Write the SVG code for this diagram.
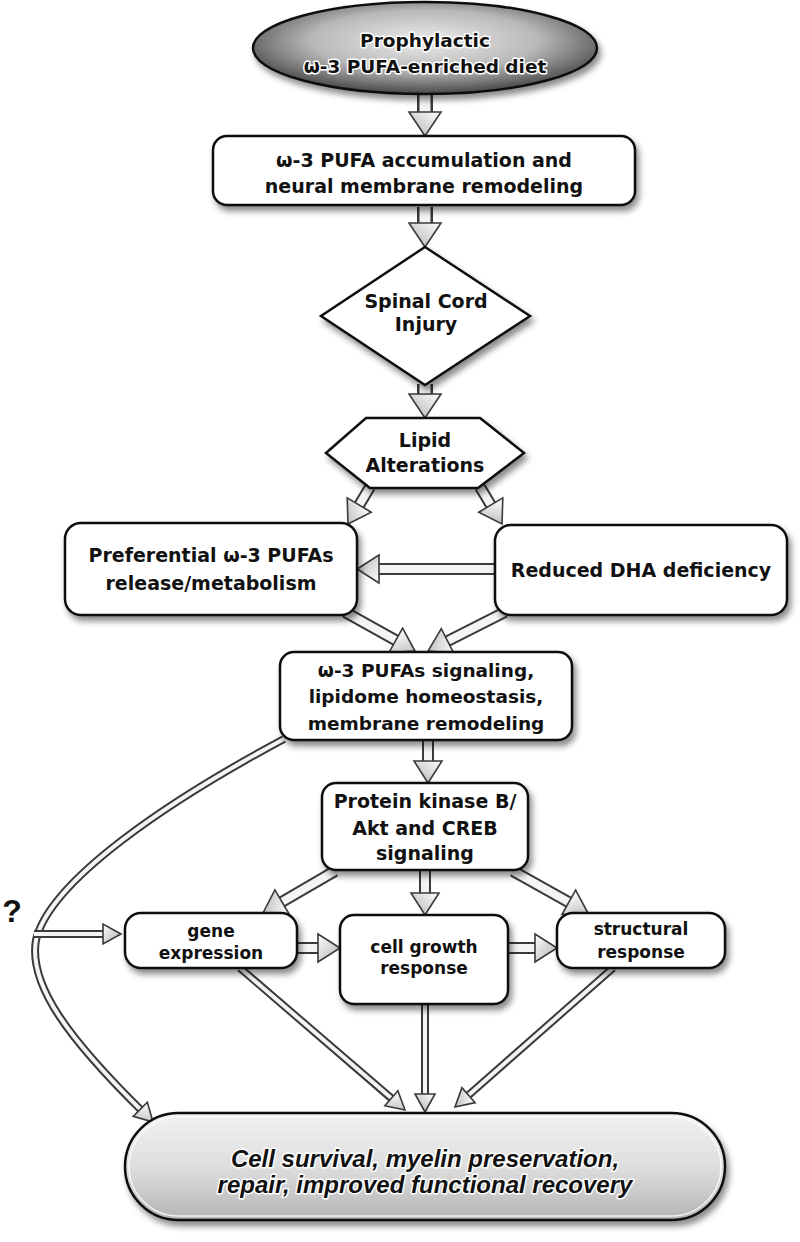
<svg xmlns="http://www.w3.org/2000/svg" xmlns:xlink="http://www.w3.org/1999/xlink" width="800" height="1242" viewBox="0 0 800 1242">
<defs>
<filter id="sh" x="-10%" y="-10%" width="125%" height="140%">
<feDropShadow dx="3" dy="5" stdDeviation="3" flood-color="#000" flood-opacity="0.45"/>
</filter>
<radialGradient id="topg" cx="50%" cy="42%" r="60%">
<stop offset="0" stop-color="#ececec"/>
<stop offset="0.55" stop-color="#b8b8b8"/>
<stop offset="1" stop-color="#3e3e3e"/>
</radialGradient>
<linearGradient id="fing" x1="0" y1="0" x2="0" y2="1">
<stop offset="0" stop-color="#f2f2f2"/>
<stop offset="0.5" stop-color="#dedede"/>
<stop offset="1" stop-color="#b4b4b4"/>
</linearGradient>
<linearGradient id="hg" x1="0" y1="0" x2="1" y2="1">
<stop offset="0" stop-color="#ffffff"/>
<stop offset="1" stop-color="#b0b0b0"/>
</linearGradient>
<path id="hB" d="M0,0 L-24,-16 L-24,16 Z"/>
<path id="hM" d="M0,0 L-22,-14 L-22,14 Z"/>
<path id="hS" d="M0,0 L-18,-10 L-18,10 Z"/>
</defs>
<style>
.box{fill:#fff;stroke:#111;stroke-width:2.5;filter:url(#sh)}
.t{font-family:"DejaVu Sans","Liberation Sans",sans-serif;font-weight:bold;font-size:19px;text-anchor:middle;fill:#111}
.tm{font-size:18.5px}
.ts{font-size:17px}
.halo{paint-order:stroke;stroke:#fff;stroke-width:3px;stroke-linejoin:round}
.fin{font-family:"Liberation Sans",Arial,sans-serif;font-style:italic;font-weight:bold;font-size:24px;text-anchor:middle;fill:#111}
.so{fill:none;stroke:#3a3a3a;stroke-linecap:butt}
.si{fill:none;stroke:#f4f4f4;stroke-linecap:butt}
.wB{stroke-width:16}.iB{stroke-width:11}
.wM{stroke-width:12}.iM{stroke-width:8}
.wS{stroke-width:8}.iS{stroke-width:4}
.hd{fill:url(#hg);stroke:#3a3a3a;stroke-width:1.6;stroke-linejoin:miter}
.q{font-family:"Liberation Sans",Arial,sans-serif;font-weight:bold;font-size:32px;text-anchor:middle;fill:#111}
</style>
<rect width="800" height="1242" fill="#fff"/>

<g id="connectors">
<!-- A1 -->
<path class="so wB" d="M425,93 V114"/><path class="si iB" d="M425,93 V114"/>
<use href="#hB" class="hd" transform="translate(425,136) rotate(90)"/>
<!-- A2 -->
<path class="so wB" d="M425,207 V225"/><path class="si iB" d="M425,207 V225"/>
<use href="#hB" class="hd" transform="translate(425,247) rotate(90)"/>
<!-- A3 -->
<path class="so wB" d="M425,384 V396"/><path class="si iB" d="M425,384 V396"/>
<use href="#hB" class="hd" transform="translate(425,418) rotate(90)"/>
<!-- A4 -->
<path class="so wM" d="M370,487 L358,507"/><path class="si iM" d="M370,487 L358,507"/>
<use href="#hM" class="hd" transform="translate(348,524) rotate(120.7)"/>
<!-- A5 -->
<path class="so wM" d="M480,487 L492,507"/><path class="si iM" d="M480,487 L492,507"/>
<use href="#hM" class="hd" transform="translate(502,524) rotate(59.3)"/>
<!-- A6 -->
<path class="so wM" d="M496,569 H377"/><path class="si iM" d="M496,569 H377"/>
<use href="#hM" class="hd" transform="translate(357,569) rotate(180)"/>
<!-- A7 -->
<path class="so wM" d="M345,612 L397.5,641.3"/><path class="si iM" d="M345,612 L397.5,641.3"/>
<use href="#hM" class="hd" transform="translate(415,651) rotate(29.1)"/>
<!-- A8 -->
<path class="so wM" d="M505,612 L445.8,642"/><path class="si iM" d="M505,612 L445.8,642"/>
<use href="#hM" class="hd" transform="translate(428,651) rotate(153.1)"/>
<!-- A9 -->
<path class="so wM" d="M428,741 V763"/><path class="si iM" d="M428,741 V763"/>
<use href="#hM" class="hd" transform="translate(428,783) rotate(90)"/>
<!-- A10 -->
<path class="so wM" d="M335,871 L280.3,902.9"/><path class="si iM" d="M335,871 L280.3,902.9"/>
<use href="#hM" class="hd" transform="translate(263,913) rotate(149.7)"/>
<!-- A11 -->
<path class="so wM" d="M425,871 V895"/><path class="si iM" d="M425,871 V895"/>
<use href="#hM" class="hd" transform="translate(425,915) rotate(90)"/>
<!-- A12 -->
<path class="so wM" d="M513,871 L570.6,903.2"/><path class="si iM" d="M513,871 L570.6,903.2"/>
<use href="#hM" class="hd" transform="translate(588,913) rotate(29.2)"/>
<!-- A13 -->
<path class="so wM" d="M297,948 H320"/><path class="si iM" d="M297,948 H320"/>
<use href="#hM" class="hd" transform="translate(340,948)"/>
<!-- A14 -->
<path class="so wM" d="M508,948 H537"/><path class="si iM" d="M508,948 H537"/>
<use href="#hM" class="hd" transform="translate(557,948)"/>
<!-- A15 -->
<path class="so wS" d="M240,968 L392.9,1099.6"/><path class="si iS" d="M240,968 L392.9,1099.6"/>
<use href="#hS" class="hd" transform="translate(405,1110) rotate(40.7)"/>
<!-- A17 -->
<path class="so wS" d="M613,968 L467,1096.4"/><path class="si iS" d="M613,968 L467,1096.4"/>
<use href="#hS" class="hd" transform="translate(455,1107) rotate(138.7)"/>
<!-- A16 -->
<path class="so wS" d="M425,1004 V1096"/><path class="si iS" d="M425,1004 V1096"/>
<use href="#hS" class="hd" transform="translate(425,1112) rotate(90)"/>
<!-- A18 curve -->
<path class="so wS" d="M284,739 C170,800 50,880 36,940 C28,985 70,1040 142,1111"/>
<path class="si iS" d="M284,739 C170,800 50,880 36,940 C28,985 70,1040 142,1111"/>
<use href="#hS" class="hd" transform="translate(153,1122) rotate(45)"/>
<!-- A19 -->
<path class="so wS" d="M34,934 H105"/><path class="si iS" d="M34,934 H105"/>
<use href="#hS" class="hd" transform="translate(121,934)"/>
</g>

<g id="n-diet">
<ellipse cx="425" cy="48" rx="172" ry="46" fill="url(#topg)" stroke="#111" stroke-width="2.5" filter="url(#sh)"/>
<text class="t tm halo" x="425" y="47">Prophylactic</text>
<text class="t tm halo" x="425" y="73">ω-3 PUFA-enriched diet</text>
</g>

<g id="n-accum">
<rect class="box" x="213" y="136" width="422" height="69" rx="14"/>
<text class="t" x="424" y="167">ω-3 PUFA accumulation and</text>
<text class="t" x="424" y="193">neural membrane remodeling</text>
</g>

<g id="n-sci">
<polygon class="box" points="425,247 530,316 425,385 321,316"/>
<text class="t" x="426" y="308">Spinal Cord</text>
<text class="t" x="426" y="331">Injury</text>
</g>

<g id="n-lipid">
<polygon class="box" points="366,418 480,418 524,453 478,488 370,488 326,453"/>
<text class="t" x="425" y="447">Lipid</text>
<text class="t" x="425" y="472">Alterations</text>
</g>

<g id="n-pref">
<rect class="box" x="65" y="523" width="292" height="92" rx="16"/>
<text class="t" x="211" y="562">Preferential ω-3 PUFAs</text>
<text class="t" x="211" y="590">release/metabolism</text>
</g>

<g id="n-dha">
<rect class="box" x="495" y="525" width="292" height="90" rx="16"/>
<text class="t" x="641" y="577">Reduced DHA deficiency</text>
</g>

<g id="n-signal">
<rect class="box" x="280" y="652" width="292" height="88" rx="14"/>
<text class="t tm" x="426" y="677">ω-3 PUFAs signaling,</text>
<text class="t tm" x="426" y="703">lipidome homeostasis,</text>
<text class="t tm" x="426" y="730">membrane remodeling</text>
</g>

<g id="n-akt">
<rect class="box" x="322" y="783" width="206" height="87" rx="14"/>
<text class="t" x="425" y="808">Protein kinase B/</text>
<text class="t" x="425" y="835">Akt and CREB</text>
<text class="t" x="425" y="860">signaling</text>
</g>

<g id="n-gene">
<rect class="box" x="125" y="913" width="172" height="55" rx="16"/>
<text class="t ts" x="211" y="937">gene</text>
<text class="t ts" x="211" y="959">expression</text>
</g>

<g id="n-cell">
<rect class="box" x="340" y="915" width="168" height="89" rx="14"/>
<text class="t ts" x="424" y="953">cell growth</text>
<text class="t ts" x="424" y="974">response</text>
</g>

<g id="n-struct">
<rect class="box" x="557" y="913" width="168" height="55" rx="16"/>
<text class="t ts" x="641" y="935">structural</text>
<text class="t ts" x="641" y="958">response</text>
</g>

<g id="n-outcome">
<rect x="125" y="1113" width="600" height="107" rx="53.5" fill="url(#fing)" stroke="#111" stroke-width="2.5" filter="url(#sh)"/>
<rect x="129" y="1117" width="592" height="99" rx="49.5" fill="none" stroke="#fff" stroke-width="1.5" opacity="0.8"/>
<text class="fin halo" x="425" y="1167">Cell survival, myelin preservation,</text>
<text class="fin halo" x="425" y="1193">repair, improved functional recovery</text>
</g>

<g id="n-q">
<text class="q" x="12" y="922">?</text>
</g>
</svg>
